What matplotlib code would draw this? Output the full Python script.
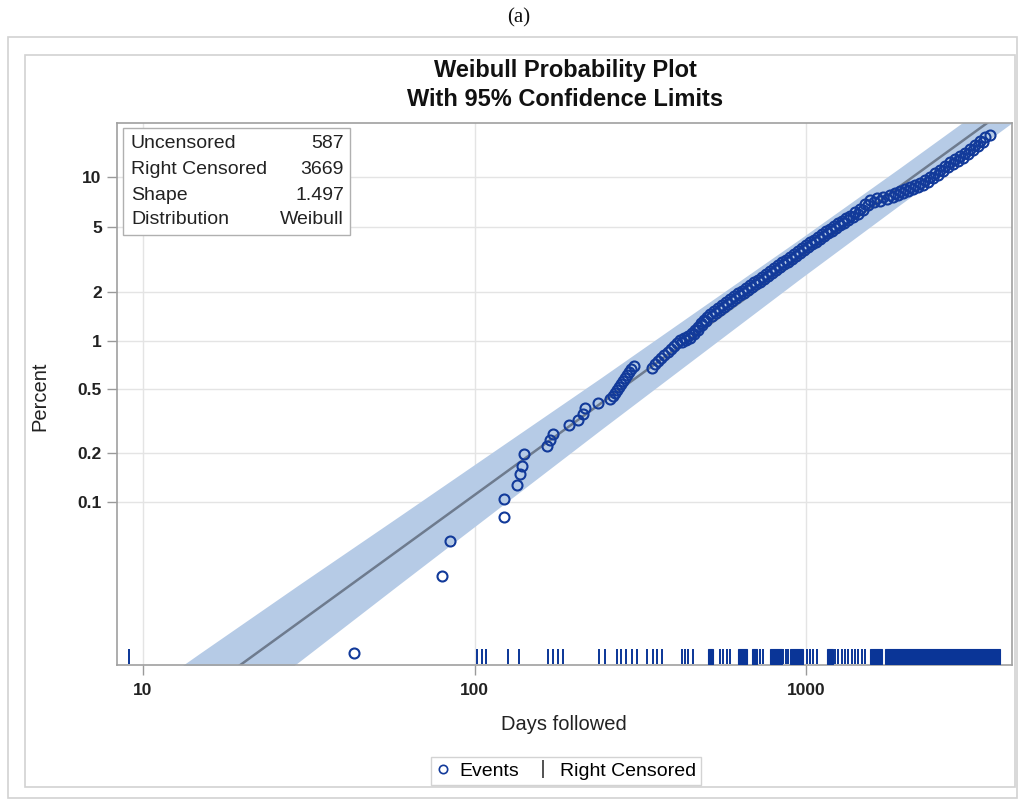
import numpy as np
import matplotlib
matplotlib.use("Agg")
import matplotlib.pyplot as plt
from matplotlib.lines import Line2D
from matplotlib.patches import Rectangle
from matplotlib.ticker import FixedLocator, FixedFormatter, NullLocator
import matplotlib.transforms as mtransforms

plt.rcParams['font.family'] = ['Liberation Sans', 'DejaVu Sans']

# ---------------- data ----------------
# events: centre of the point cloud
event_days = [43.3, 79.8, 84.4, 122.7, 122.7, 134.4, 137.2, 139.1, 141.1, 165.4,
              169.0, 172.5, 192.8, 205.2, 212.5, 215.4, 235.8, 256.3, 261.7, 265.4,
              269.1, 272.9, 276.6, 280.5, 284.4, 288.4, 292.5, 296.6, 302.8, 343.1,
              350.4, 357.7, 365.3, 373.0, 383.5, 391.6, 399.8, 408.2, 416.8, 428.5,
              440.6, 453.0, 462.6, 472.3, 482.3, 492.4, 502.8, 513.3, 527.8, 542.6,
              558.0, 573.7, 589.8, 606.5, 623.6, 641.2, 659.2, 677.8, 696.8, 716.4,
              736.6, 757.3, 778.7, 800.6, 823.1, 846.3, 870.3, 894.7, 919.9, 945.9,
              972.5, 1000.0, 1028.2, 1057.1, 1087.0, 1117.5, 1148.9, 1181.3, 1214.6, 1248.7,
              1283.9, 1320.1, 1357.1, 1405.1, 1455.5, 1506.6, 1560.3, 1637.9, 1707.6, 1792.5,
              1855.9, 1920.9, 1988.6, 2059.2, 2132.4, 2207.9, 2285.5, 2366.3, 2449.0, 2536.3,
              2626.0, 2718.9, 2815.0, 2914.7, 3017.2, 3124.2, 3234.9, 3349.1, 3467.4, 3590.8,
              # lower part of the dense cloud
              422.7, 434.6, 446.8, 459.3, 472.3, 485.6, 499.3, 520.5, 535.2, 550.2,
              565.8, 581.7, 598.1, 614.9, 632.3, 650.1, 668.4, 687.2, 706.6, 726.5,
              747.0, 768.0, 789.7, 811.9, 834.7, 858.2, 882.4, 907.3, 932.8, 959.1,
              986.2, 1014.0, 1042.6, 1071.9, 1102.1, 1133.2, 1165.1, 1197.9, 1231.6, 1266.4,
              1302.0, 1338.7, 1381.2, 1430.0, 1480.5, 1532.8, 1598.0, 1671.8, 1749.0, 1823.6,
              1888.0, 1954.7, 2023.7, 2095.2, 2169.2, 2245.8, 2325.1, 2407.2, 2492.3, 2580.3,
              2671.4, 2765.8, 2863.5, 2964.6, 3069.3, 3177.8, 3290.1, 3406.3]
event_pct = [0.01145, 0.0345, 0.0570, 0.0804, 0.104, 0.127, 0.149, 0.167, 0.198, 0.222,
             0.242, 0.264, 0.300, 0.322, 0.351, 0.382, 0.411, 0.435, 0.454, 0.474,
             0.495, 0.516, 0.539, 0.562, 0.587, 0.613, 0.640, 0.667, 0.697, 0.677,
             0.717, 0.748, 0.781, 0.815, 0.851, 0.888, 0.927, 0.968, 1.010, 1.039,
             1.069, 1.116, 1.164, 1.215, 1.287, 1.343, 1.401, 1.462, 1.526, 1.593,
             1.662, 1.734, 1.810, 1.888, 1.971, 2.027, 2.115, 2.207, 2.303, 2.369,
             2.472, 2.579, 2.691, 2.807, 2.929, 3.055, 3.142, 3.278, 3.419, 3.567,
             3.721, 3.881, 4.048, 4.163, 4.342, 4.529, 4.722, 4.856, 5.064, 5.281,
             5.430, 5.661, 5.821, 6.154, 6.415, 6.873, 7.264, 7.469, 7.572, 7.782,
             8.000, 8.223, 8.453, 8.685, 8.927, 9.174, 9.557, 9.956, 10.51, 10.95,
             11.55, 12.19, 12.69, 13.21, 13.75, 14.50, 15.28, 16.11, 16.97, 17.42,
             0.981, 1.010, 1.046, 1.099, 1.164, 1.251, 1.324, 1.431, 1.494, 1.559,
             1.627, 1.698, 1.772, 1.849, 1.916, 1.985, 2.071, 2.161, 2.239, 2.319,
             2.420, 2.525, 2.635, 2.749, 2.868, 2.971, 3.077, 3.210, 3.349, 3.493,
             3.644, 3.801, 3.936, 4.077, 4.252, 4.435, 4.593, 4.756, 4.959, 5.135,
             5.318, 5.506, 5.740, 6.026, 6.370, 6.778, 7.066, 7.214, 7.365, 7.570,
             7.781, 7.998, 8.221, 8.449, 8.683, 8.986, 9.364, 9.821, 10.30, 10.80,
             11.40, 11.95, 12.44, 12.95, 13.57, 14.31, 15.08, 15.90]

censored_days = [9.09, 102.0, 105.1, 108.3, 125.9, 135.9, 167.0, 172.2, 178.2, 185.3,
                 237.9, 247.5, 268.5, 276.6, 285.8, 298.0, 308.6, 330.7, 346.2, 354.4,
                 367.0, 421.7, 431.5, 441.5, 457.1, 550.2, 561.8, 576.4, 589.8, 726.5,
                 741.8, 852.3, 870.2, 882.4, 1004.9, 1028.2, 1049.8, 1077.1, 1223.2, 1249.0,
                 1281.5, 1311.2, 1338.8, 1373.7, 1405.5, 1435.1, 1472.4, 1506.6]
# ranges where censored ticks are so dense that they merge into a solid block
censored_span_start = [506.1, 623.6, 685.8, 778.8, 894.7, 1154.7, 1559.9, 1731.4]
censored_span_end = [524.0, 663.8, 710.1, 844.6, 979.4, 1206.3, 1692.2, 3847.7]

weibull_shape = 1.497
weibull_scale = 9460.0

band_days = [8.35, 14.86, 29.76, 59.6, 119.4, 239.1, 478.8, 959.2, 1921.0, 4182.0]
band_upper_pct = [0.00496, 0.01143, 0.0308, 0.0819, 0.219, 0.584, 1.58, 4.23, 11.29, 31.8]
band_lower_pct = [0.001405, 0.00343, 0.01022, 0.0309, 0.0927, 0.278, 0.821, 2.41, 6.81, 20.4]

x_ticks = [10, 100, 1000]
x_tick_labels = ['10', '100', '1000']
y_ticks = [0.1, 0.2, 0.5, 1, 2, 5, 10]
y_tick_labels = ['0.1', '0.2', '0.5', '1', '2', '5', '10']

stats_labels = ['Uncensored', 'Right Censored', 'Shape', 'Distribution']
stats_values = ['587', '3669', '1.497', 'Weibull']

# ---------------- scale ----------------
def weib_fwd(p):
    p = np.clip(np.asarray(p, dtype=float), 1e-9, 99.99999)
    return np.log(-np.log(1.0 - p / 100.0))

def weib_inv(g):
    return 100.0 * (1.0 - np.exp(-np.exp(np.asarray(g, dtype=float))))

W, H = 1018, 800
fig = plt.figure(figsize=(W / 100, H / 100), dpi=100)

ax_l, ax_r, ax_t, ax_b = 117, 1012, 123, 665
ax = fig.add_axes([ax_l / W, 1 - ax_b / H, (ax_r - ax_l) / W, (ax_b - ax_t) / H])
ax.set_xscale('log')
ax.set_yscale('function', functions=(weib_fwd, weib_inv))
ax.set_xlim(8.35, 4180)
ax.set_ylim(0.00965, 20.34)

# confidence band
ax.fill_between(band_days, band_lower_pct, band_upper_pct, color='#b6cbe6', lw=0, zorder=1)

# fitted line
xl = np.array(ax.get_xlim())
fit_pct = 100.0 * (1.0 - np.exp(-(xl / weibull_scale) ** weibull_shape))
ax.plot(xl, fit_pct, color='#6e7b8e', lw=1.8, zorder=2)

# events
ev_color = '#123a9a'
ax.plot(event_days, event_pct, 'o', mfc='none', mec=ev_color, ms=7.2, mew=1.5, zorder=3)

# right censored rug
trans = mtransforms.blended_transform_factory(ax.transData, ax.transAxes)
rug_color = '#0a3597'
ax.vlines(censored_days, 0.002, 0.0295, transform=trans, color=rug_color, lw=1.4, zorder=3)
for s, e in zip(censored_span_start, censored_span_end):
    ax.add_patch(Rectangle((s, 0.002), e - s, 0.0275, transform=trans,
                           facecolor=rug_color, edgecolor=rug_color, lw=0.8, zorder=3))

# ticks / grid
ax.xaxis.set_major_locator(FixedLocator(x_ticks))
ax.xaxis.set_major_formatter(FixedFormatter(x_tick_labels))
ax.xaxis.set_minor_locator(NullLocator())
ax.yaxis.set_major_locator(FixedLocator(y_ticks))
ax.yaxis.set_major_formatter(FixedFormatter(y_tick_labels))
ax.yaxis.set_minor_locator(NullLocator())
ax.grid(True, color='#e4e4e4', lw=1.0)
ax.set_axisbelow(True)
ax.tick_params(direction='out', length=7, width=1, color='#9a9a9a',
               labelsize=12.5, labelcolor='#222222')
ax.tick_params(axis='x', pad=6)
ax.tick_params(axis='y', pad=4)
for lab in ax.get_xticklabels() + ax.get_yticklabels():
    lab.set_fontweight('bold')
for sp in ax.spines.values():
    sp.set_color('#a0a0a0')
    sp.set_linewidth(1.2)

# inset statistics table
bx0 = (123 - ax_l) / (ax_r - ax_l)
bx1 = (350 - ax_l) / (ax_r - ax_l)
by0 = (ax_b - 235) / (ax_b - ax_t)
by1 = (ax_b - 128) / (ax_b - ax_t)
ax.add_patch(Rectangle((bx0, by0), bx1 - bx0, by1 - by0, transform=ax.transAxes,
                       facecolor='white', edgecolor='#b0b0b0', lw=1.0, zorder=5))
row_y = [144, 170, 195, 220]
for yy, lab, val in zip(row_y, stats_labels, stats_values):
    ya = (ax_b - yy) / (ax_b - ax_t)
    ax.text((131 - ax_l) / (ax_r - ax_l), ya, lab, transform=ax.transAxes,
            ha='left', va='center', fontsize=14, color='#222222', zorder=6)
    ax.text((344 - ax_l) / (ax_r - ax_l), ya, val, transform=ax.transAxes,
            ha='right', va='center', fontsize=14, color='#222222', zorder=6)

# titles and labels
fig.text(565 / W, 1 - 71 / H, 'Weibull Probability Plot', ha='center', va='center',
         fontsize=17, fontweight='bold', color='#111111')
fig.text(565 / W, 1 - 99 / H, 'With 95% Confidence Limits', ha='center', va='center',
         fontsize=17, fontweight='bold', color='#111111')
fig.text(564 / W, 1 - 724 / H, 'Days followed', ha='center', va='center',
         fontsize=14.5, color='#222222')
fig.text(40 / W, 1 - 396 / H, 'Percent', ha='center', va='center', rotation=90,
         fontsize=14.5, color='#222222')
fig.text(519 / W, 1 - 18 / H, '(a)', ha='center', va='center', fontsize=15,
         family=['Liberation Serif', 'DejaVu Serif'], color='#111111')

# legend
handles = [Line2D([], [], marker='o', ls='none', mfc='none', mec=ev_color, ms=6, mew=1.2),
           Line2D([], [], marker='|', ls='none', color='#222222', ms=13, mew=1.1)]
leg = fig.legend(handles, ['Events', 'Right Censored'], loc='center',
                 bbox_to_anchor=(566 / W, 1 - 771 / H), ncol=2, frameon=True,
                 fancybox=False, edgecolor='#c8c8c8', fontsize=14,
                 handlelength=0.7, handletextpad=0.5, columnspacing=0.9,
                 borderpad=0.25)
leg.get_frame().set_linewidth(1.0)

# outer frames
fig.add_artist(Rectangle((8 / W, 1 - 798 / H), (1017 - 8) / W, (798 - 37) / H,
                         transform=fig.transFigure, fill=False, ec='#d2d2d2', lw=1.2))
fig.add_artist(Rectangle((25 / W, 1 - 787 / H), (1015 - 25) / W, (787 - 55) / H,
                         transform=fig.transFigure, fill=False, ec='#d2d2d2', lw=1.2))

fig.savefig('out.png', dpi=100)
